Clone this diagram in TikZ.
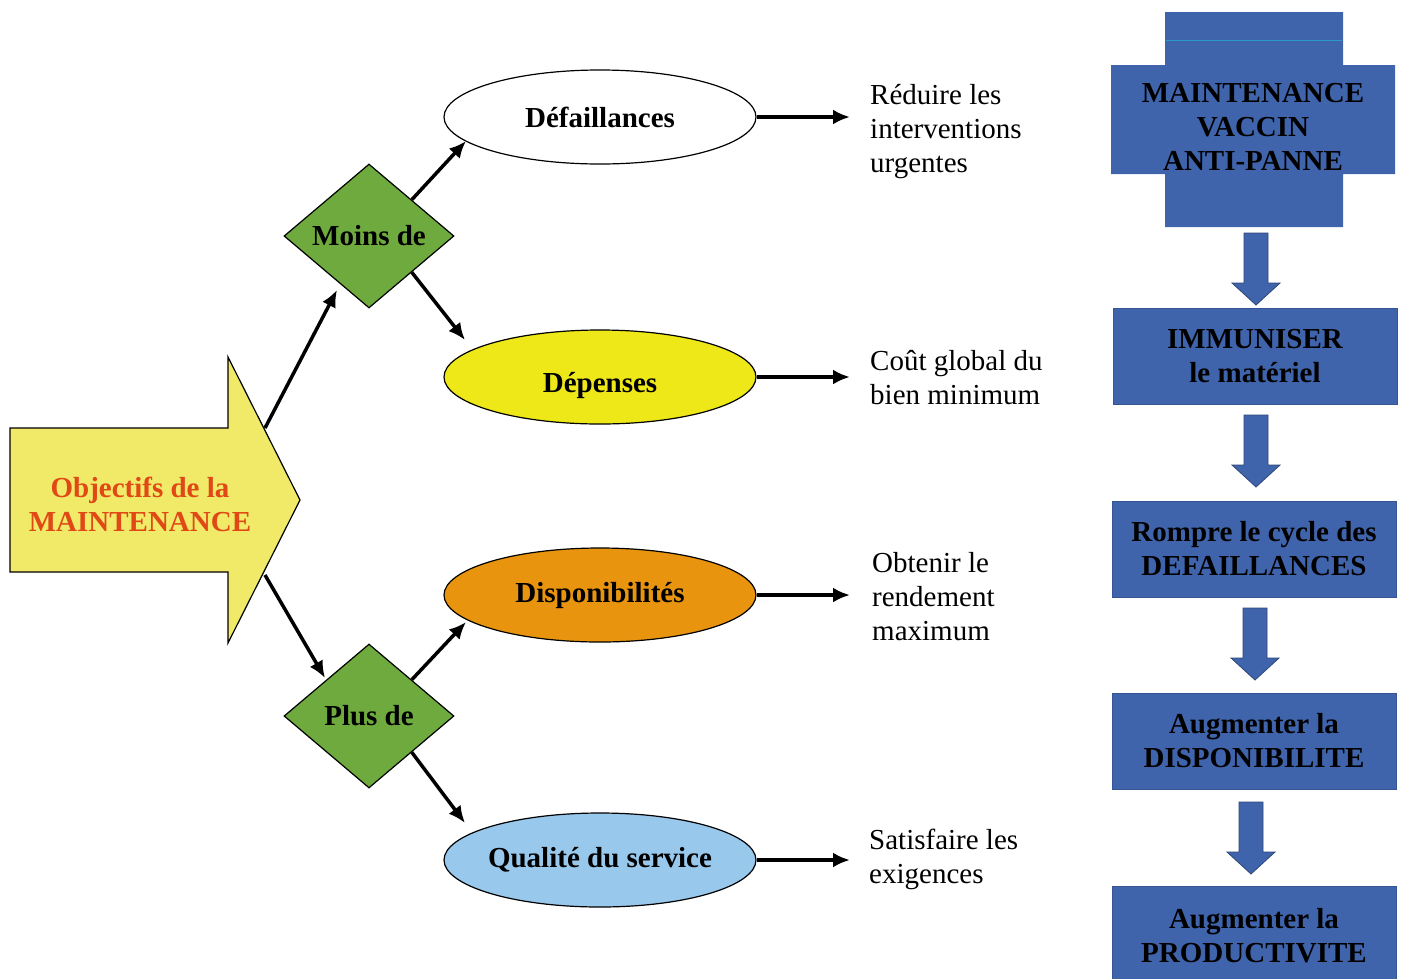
\documentclass[tikz,border=0pt]{standalone}
\usepackage{fontspec}
\setmainfont{Liberation Serif}
\usetikzlibrary{shapes.geometric, arrows.meta, positioning}
\definecolor{arrowyellow}{RGB}{240, 234, 104}
\definecolor{diamgreen}{RGB}{110, 170, 62}
\definecolor{elyellow}{RGB}{238, 232, 24}
\definecolor{elorange}{RGB}{232, 148, 14}
\definecolor{elblue}{RGB}{152, 200, 236}
\definecolor{boxblue}{RGB}{64, 100, 172}
\definecolor{objred}{RGB}{224, 72, 22}
\tikzset{
    boldfont/.style = {align=center, font=\bfseries\fontsize{29}{34}\selectfont},
    diamondnode/.style = {draw, diamond, fill=diamgreen, line width=1.2pt, inner sep=0pt,
      minimum width=170pt, minimum height=144pt, boldfont},
    ellipsenode/.style = {draw, ellipse, line width=1.2pt, inner ysep=0pt, inner xsep=-12pt,
      minimum width=312pt, minimum height=94pt, boldfont},
    textnode/.style = {draw=none, fill=none, anchor=west, align=left, inner sep=0pt,
      font=\fontsize{29}{34}\selectfont},
    bluebox/.style = {draw=boxblue!85!black, fill=boxblue, line width=0.8pt, inner sep=0pt,
      minimum width=284pt, minimum height=96pt, boldfont},
    blockarrow/.style = {draw=boxblue!70!black, line width=0.8pt},
    connect/.style = {black, line width=3.5pt, -{Latex[length=17pt,width=15pt]}}
}
\newcommand{\downblock}[2]{%
  \fill[boxblue] (#1-12,#2) -- (#1+12,#2) -- (#1+12,#2+50) -- (#1+24,#2+50) -- (#1,#2+72)
    -- (#1-24,#2+50) -- (#1-12,#2+50) -- cycle;
  \draw[blockarrow] (#1-12,#2) -- (#1+12,#2) -- (#1+12,#2+50) -- (#1+24,#2+50) -- (#1,#2+72)
    -- (#1-24,#2+50) -- (#1-12,#2+50) -- cycle;}

\begin{document}
\begin{tikzpicture}[x=1pt, y=-1pt]
    \useasboundingbox (0,0) rectangle (1404,978);

    % big arrow
    \draw[fill=arrowyellow, line width=1.2pt] (10,428) -- (228,428) -- (228,357) -- (300,500)
      -- (228,643) -- (228,572) -- (10,572) -- cycle;
    \node[boldfont, text=objred, name=Obj] at (140,504) {Objectifs de la\\MAINTENANCE};
    \coordinate (objup) at (265,428);
    \coordinate (objdown) at (265,575);

    \node[diamondnode, name=Moins] at (369,236) {Moins de};
    \node[diamondnode, name=Plus] at (369,716) {Plus de};

    \node[ellipsenode, name=Def, fill=white] at (600,117) {Défaillances};
    \node[ellipsenode, name=Dep, fill=elyellow, text height=30pt, text depth=0pt] at (600,377) {Dépenses};
    \node[ellipsenode, name=Dispo, fill=elorange] at (600,595) {Disponibilités};
    \node[ellipsenode, name=Qual, fill=elblue] at (600,860) {Qualité du service};

    \node[textnode, name=Reduire] at (870,132) {Réduire les\\interventions\\urgentes};
    \node[textnode, name=Cout] at (870,378) {Coût global du\\bien minimum};
    \node[textnode, name=Obtenir] at (872,597) {Obtenir le\\rendement\\maximum};
    \node[textnode, name=Satisf] at (869,859) {Satisfaire les\\exigences};

    \coordinate (defin) at (466,141);
    \coordinate (depin) at (465,340);
    \coordinate (dispoin) at (466,622);
    \coordinate (qualin) at (465,823);
    \coordinate (moinsin) at (337,290);
    \coordinate (plusin) at (325,678);

    \draw[connect] (objup) -- (moinsin);
    \draw[connect] (objdown) -- (plusin);
    \draw[connect] (Moins.north east) -- (defin);
    \draw[connect] (Moins.south east) -- (depin);
    \draw[connect] (Plus.north east) -- (dispoin);
    \draw[connect] (Plus.south east) -- (qualin);

    \draw[connect, shorten >=20pt] (Def.east) -- (Reduire.west |- Def.east);
    \draw[connect, shorten >=20pt] (Dep.east) -- (Cout.west |- Dep.east);
    \draw[connect, shorten >=22pt] (Dispo.east) -- (Obtenir.west |- Dispo.east);
    \draw[connect, shorten >=19pt] (Qual.east) -- (Satisf.west |- Qual.east);

    % right column
    \fill[boxblue] (1165,12) -- (1343,12) -- (1343,65) -- (1395,65) -- (1395,174) -- (1343,174)
      -- (1343,227) -- (1165,227) -- (1165,174) -- (1111,174) -- (1111,65) -- (1165,65) -- cycle;
    \draw[cyan!60!teal, line width=1pt] (1166,40) -- (1342,40);
    \node[boldfont, name=Vaccin] at (1253,127) {MAINTENANCE\\VACCIN\\ANTI-PANNE};

    \node[bluebox, name=Immun] at (1255,356) {IMMUNISER\\le matériel};
    \node[bluebox, name=Rompre] at (1254,549) {Rompre le cycle des\\DEFAILLANCES};
    \node[bluebox, name=AugDispo] at (1254,741) {Augmenter la\\DISPONIBILITE};
    \node[bluebox, name=AugProd, minimum height=100pt] at (1254,936) {Augmenter la\\PRODUCTIVITE};

    \downblock{1256}{233}
    \downblock{1256}{415}
    \downblock{1255}{608}
    \downblock{1251}{802}
\end{tikzpicture}
\end{document}
